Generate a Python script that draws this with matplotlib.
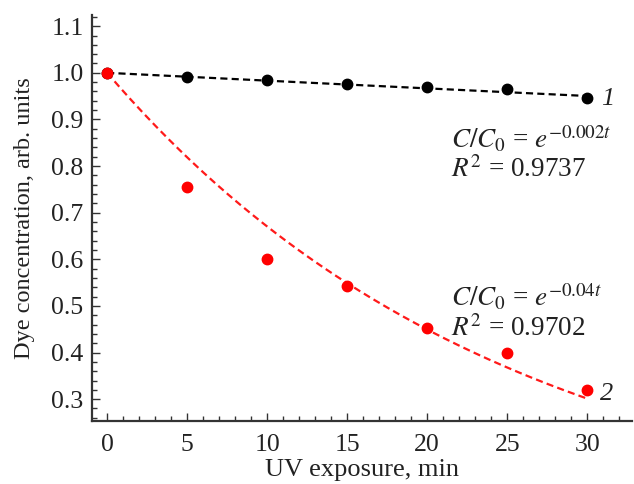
import numpy as np
import matplotlib
matplotlib.use("Agg")
import matplotlib.pyplot as plt

# data
t = [0, 5, 10, 15, 20, 25, 30]
dye_1 = [1.0, 0.991, 0.984, 0.977, 0.969, 0.965, 0.946]
dye_2 = [1.0, 0.756, 0.601, 0.543, 0.452, 0.399, 0.319]
k_1 = 0.0017   # rate of the drawn fit curve 1
k_2 = 0.04     # rate of the drawn fit curve 2
eq_1 = [r"$C/C_0$ = $e^{-0.002t}$", r"$R^2$ = 0.9737"]
eq_2 = [r"$C/C_0$ = $e^{-0.04t}$", r"$R^2$ = 0.9702"]

plt.rcParams['font.family'] = ['Liberation Serif', 'DejaVu Serif']
plt.rcParams['mathtext.fontset'] = 'stix'
txt = '#222222'

fig = plt.figure(figsize=(6.34, 4.84), dpi=100)
ax = fig.add_axes([0.145, 0.130, 0.852, 0.839])

tt = np.linspace(t[0], t[-1], 200)
dash = (0, (3.2, 1.9))
ax.plot(tt, np.exp(-k_1 * tt), color='black', lw=1.6, linestyle=dash, zorder=2)
ax.plot(tt, np.exp(-k_2 * tt), color='#ff1a1a', lw=1.6, linestyle=dash, zorder=2)
ax.plot(t, dye_1, 'o', color='black', ms=7.5, zorder=3)
ax.plot(t, dye_2, 'o', color='#ff0000', ms=7.5, zorder=3)

ax.text(31.25, 0.944, '1', style='italic', fontsize=19, color=txt, va='center', ha='center')
ax.text(31.2, 0.311, '2', style='italic', fontsize=19, color=txt, va='center', ha='center')

ax.text(21.5, 0.838, eq_1[0], fontsize=19.5, color=txt, va='baseline')
ax.text(21.5, 0.776, eq_1[1], fontsize=19.5, color=txt, va='baseline')
ax.text(21.5, 0.500, eq_2[0], fontsize=19.5, color=txt, va='baseline')
ax.text(21.5, 0.436, eq_2[1], fontsize=19.5, color=txt, va='baseline')

ax.set_xlim(-0.95, 32.8)
ax.set_ylim(0.253, 1.124)
ax.set_xticks(range(0, 31, 5))
ax.set_xticks(np.arange(0, 33, 1), minor=True)
ax.set_yticks(np.arange(0.3, 1.11, 0.1))
ax.set_yticks(np.arange(0.26, 1.12, 0.02), minor=True)
ax.set_yticklabels([f"{v:.1f}" for v in np.arange(0.3, 1.11, 0.1)])

for s in ['top', 'right']:
    ax.spines[s].set_visible(False)
for s in ['left', 'bottom']:
    ax.spines[s].set_linewidth(1.6)
    ax.spines[s].set_color('#333333')

ax.tick_params(which='both', direction='in', color='#333333', width=1.0,
               labelsize=18.5, labelcolor=txt)
ax.tick_params(axis='x', pad=9.5)
ax.tick_params(axis='y', pad=6)
ax.tick_params(which='major', length=6)
ax.tick_params(which='minor', length=3.5)

ax.set_xlabel('UV exposure, min', fontsize=19, color=txt, labelpad=2)
ax.set_ylabel('Dye concentration, arb. units', fontsize=17.5, color=txt, labelpad=12)

fig.savefig('out.png', dpi=100)
